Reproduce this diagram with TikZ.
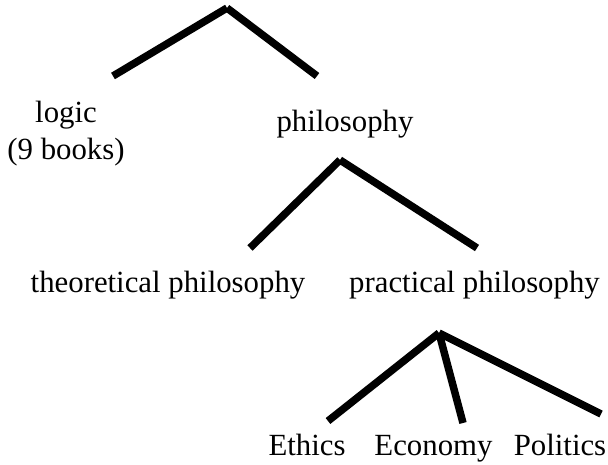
\documentclass[tikz,border=0pt]{standalone}
\usepackage{fontspec}
\setmainfont{Liberation Serif}
\begin{document}
\begin{tikzpicture}[x=1pt,y=-1pt,
  lbl/.style={anchor=base,inner sep=0pt,font=\fontsize{30.8}{37}\selectfont,align=center},
  branch/.style={line width=7.5pt,black}]
\useasboundingbox (0,0) rectangle (608,464);
% apexes and line ends
\coordinate (a1) at (227,8);
\coordinate (a1l) at (113,76);
\coordinate (a1r) at (317,76);
\coordinate (a2) at (340,160);
\coordinate (a2l) at (250,248);
\coordinate (a2r) at (477,248);
\coordinate (a3) at (439,333);
\coordinate (a3l) at (328,421);
\coordinate (a3m) at (463,423);
\coordinate (a3r) at (601,414);
% labels
\node[lbl] (logic) at (66,159) {logic\\(9 books)};
\node[lbl] (phil) at (345,131) {philosophy};
\node[lbl] (theo) at (168,292) {theoretical philosophy};
\node[lbl] (prac) at (474.5,292) {practical philosophy};
\node[lbl] (eth) at (307,455) {Ethics};
\node[lbl] (eco) at (433.5,455) {Economy};
\node[lbl] (pol) at (560,455) {Politics};
% branches
\draw[branch] (a1) -- (a1l);
\draw[branch] (a1) -- (a1r);
\draw[branch] (a2) -- (a2l);
\draw[branch] (a2) -- (a2r);
\draw[branch] (a3) -- (a3l);
\draw[branch] (a3) -- (a3m);
\draw[branch] (a3) -- (a3r);
\end{tikzpicture}
\end{document}
